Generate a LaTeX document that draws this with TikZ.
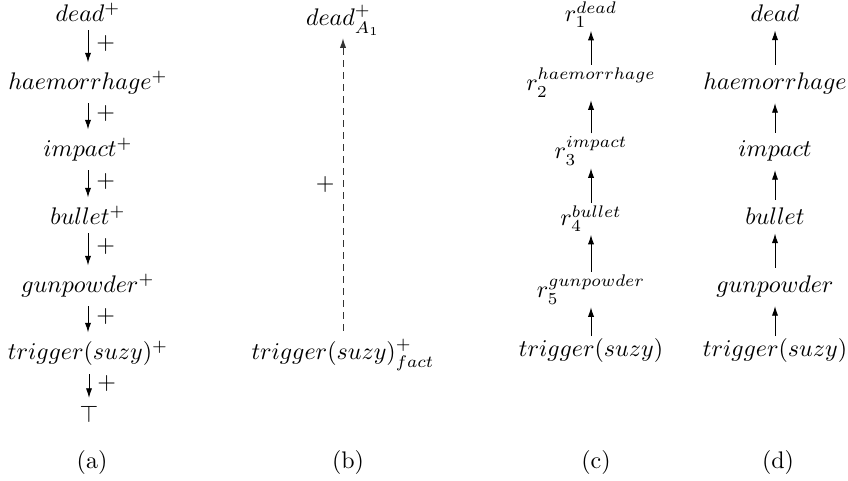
\documentclass[tikz,border=0pt]{standalone}
\usetikzlibrary{arrows.meta,positioning}

\begin{document}
\begin{tikzpicture}[
  x=0.4167pt, y=-0.4167pt,
  lit/.style={anchor=base},
  rulelit/.style={anchor=base, inner sep=1pt},
  down/.style={-{Latex[length=4pt,width=2.6pt]}},
  up/.style={-{Latex[length=4pt,width=2.6pt]}},
  proof/.style={-{Latex[length=4pt,width=2.6pt]}, dash pattern=on 3pt off 2pt, draw=black!80},
  sign/.style={font=\normalsize}]
\useasboundingbox (0,0) rectangle (848,481);

% (a)
\node[lit] (a1) at (88,22)  {$dead^{+}$};
\node[lit] (a2) at (88,90)  {$haemorrhage^{+}$};
\node[lit] (a3) at (88,157) {$impact^{+}$};
\node[lit] (a4) at (88,225) {$bullet^{+}$};
\node[lit] (a5) at (88,293) {$gunpowder^{+}$};
\node[lit] (a6) at (88,360) {$trigger(suzy)^{+}$};
\node[lit] (a7) at (89,423) {$\top$};
\draw[down] (a1) -- node[right, pos=0.4, sign]{$+$} (a2);
\draw[down] (a2) -- node[right, pos=0.4, sign]{$+$} (a3);
\draw[down] (a3) -- node[right, pos=0.4, sign]{$+$} (a4);
\draw[down] (a4) -- node[right, pos=0.4, sign]{$+$} (a5);
\draw[down] (a5) -- node[right, pos=0.4, sign]{$+$} (a6);
\draw[down] (a6.south -| a7) -- node[right, pos=0.4, sign]{$+$} (a7);
\node[lit] (capa) at (92,469) {(a)};

% (b)
\node[rulelit] (b1) at (343,26)  {$dead^{+}_{A_1}$};
\node[lit] (b2) at (343,360) {$trigger(suzy)^{+}_{fact}$};
\draw[proof] (b2.north -| b1) -- node[left, sign]{$+$} (b1);
\node[lit] (capb) at (348,469) {(b)};

% (c)
\node[rulelit] (c1) at (591,22)  {$r_1^{dead}$};
\node[rulelit] (c2) at (591,91)  {$r_2^{haemorrhage}$};
\node[rulelit] (c3) at (591,159) {$r_3^{impact}$};
\node[rulelit] (c4) at (591,226) {$r_4^{bullet}$};
\node[rulelit] (c5) at (591,298) {$r_5^{gunpowder}$};
\node[rulelit] (c6) at (591,357) {$trigger(suzy)$};
\draw[up] (c2) -- (c1);
\draw[up] (c3) -- (c2);
\draw[up] (c4) -- (c3);
\draw[up] (c5) -- (c4);
\draw[up] (c6) -- (c5);
\node[lit] (capc) at (596,469) {(c)};

% (d)
\node[lit] (d1) at (775,22)  {$dead$};
\node[lit] (d2) at (775,90)  {$haemorrhage$};
\node[lit] (d3) at (775,157) {$impact$};
\node[lit] (d4) at (775,225) {$bullet$};
\node[lit] (d5) at (775,293) {$gunpowder$};
\node[rulelit] (d6) at (775,357) {$trigger(suzy)$};
\draw[up] (d2) -- (d1);
\draw[up] (d3) -- (d2);
\draw[up] (d4) -- (d3);
\draw[up] (d5) -- (d4);
\draw[up] (d6) -- (d5);
\node[lit] (capd) at (778,469) {(d)};
\end{tikzpicture}
\end{document}
